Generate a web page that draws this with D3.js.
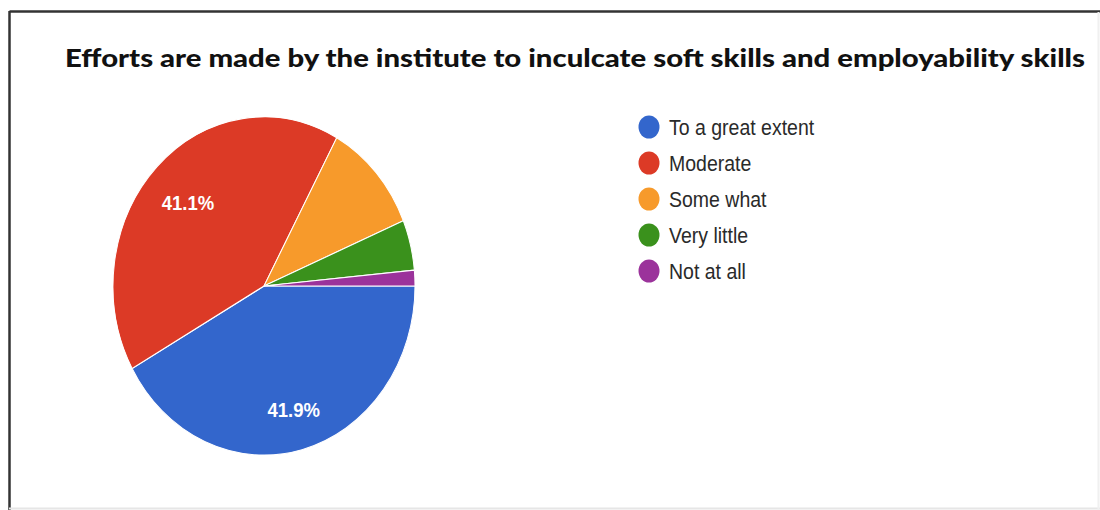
<!DOCTYPE html>
<html>
<head>
<meta charset="utf-8">
<script src="https://cdn.jsdelivr.net/npm/d3@7"></script>
<style>
  html, body { margin: 0; padding: 0; background: #ffffff; }
  svg { display: block; }
</style>
</head>
<body>
<svg id="chart" width="1100" height="510"></svg>
<script>
const titleText = "Efforts are made by the institute to inculcate soft skills and employability skills";
const categories = ["To a great extent", "Moderate", "Some what", "Very little", "Not at all"];
const values = [41.9, 41.1, 10.7, 4.8, 1.5];
const colors = ["#3366cc", "#dc3a26", "#f79a2b", "#3a911c", "#9b339b"];

const svg = d3.select("#chart");

// frame
svg.append("line").attr("x1", 9.5).attr("x2", 1100).attr("y1", 11.5).attr("y2", 11.5)
  .attr("stroke", "#333").attr("stroke-width", 2.5);
svg.append("line").attr("x1", 9.5).attr("x2", 9.5).attr("y1", 11).attr("y2", 510)
  .attr("stroke", "#333").attr("stroke-width", 2.5);
svg.append("line").attr("x1", 9).attr("x2", 1100).attr("y1", 508.5).attr("y2", 508.5)
  .attr("stroke", "#e6e6e6").attr("stroke-width", 2);
svg.append("line").attr("x1", 1098.5).attr("x2", 1098.5).attr("y1", 12).attr("y2", 510)
  .attr("stroke", "#f0f0f0").attr("stroke-width", 2);

// title
svg.append("text")
  .attr("transform", "translate(575,67) scale(1,1.12)")
  .attr("text-anchor", "middle")
  .attr("font-family", "Lato, 'Open Sans', sans-serif")
  .attr("font-weight", "900")
  .attr("font-size", 22)
  .attr("fill", "#111")
  .attr("textLength", 1020)
  .attr("lengthAdjust", "spacingAndGlyphs")
  .text(titleText);

// pie
const cx = 264, cy = 286, r = 151, sy = 1.12;
const pie = d3.pie().sort(null).value(d => d)
  .startAngle(Math.PI / 2).endAngle(Math.PI / 2 + 2 * Math.PI);
const arcs = pie(values);
const arc = d3.arc().innerRadius(0).outerRadius(r);
const labelArc = d3.arc().innerRadius(110).outerRadius(110);

const g = svg.append("g").attr("transform", `translate(${cx},${cy}) scale(1,${sy})`);
g.selectAll("path").data(arcs).enter().append("path")
  .attr("d", arc)
  .attr("fill", (d, i) => colors[i])
  .attr("stroke", "#ffffff")
  .attr("stroke-width", 1);

svg.selectAll("text.pl").data(arcs.filter(d => d.data >= 15)).enter().append("text")
  .attr("class", "pl")
  .attr("transform", d => {
    const c = labelArc.centroid(d);
    return `translate(${cx + c[0] + 2},${cy + c[1] * sy + 4}) scale(1,1.1)`;
  })
  .attr("text-anchor", "middle")
  .attr("dy", "0.36em")
  .attr("font-family", "'Liberation Sans', Arial, sans-serif")
  .attr("font-weight", "bold")
  .attr("font-size", 18.5)
  .attr("fill", "#ffffff")
  .text(d => d.data.toFixed(1) + "%");

// legend
const legY = d3.scalePoint().domain(categories).range([127, 271]);
const leg = svg.selectAll("g.leg").data(categories).enter().append("g")
  .attr("class", "leg")
  .attr("transform", d => `translate(649,${legY(d)})`);
leg.append("ellipse").attr("rx", 10.5).attr("ry", 11.5)
  .attr("fill", (d, i) => colors[i]);
leg.append("text")
  .attr("transform", "translate(20,8) scale(1,1.1)")
  .attr("font-family", "'Liberation Sans', Arial, sans-serif")
  .attr("font-size", 19.5)
  .attr("fill", "#2a2a2a")
  .text(d => d);
</script>
</body>
</html>
